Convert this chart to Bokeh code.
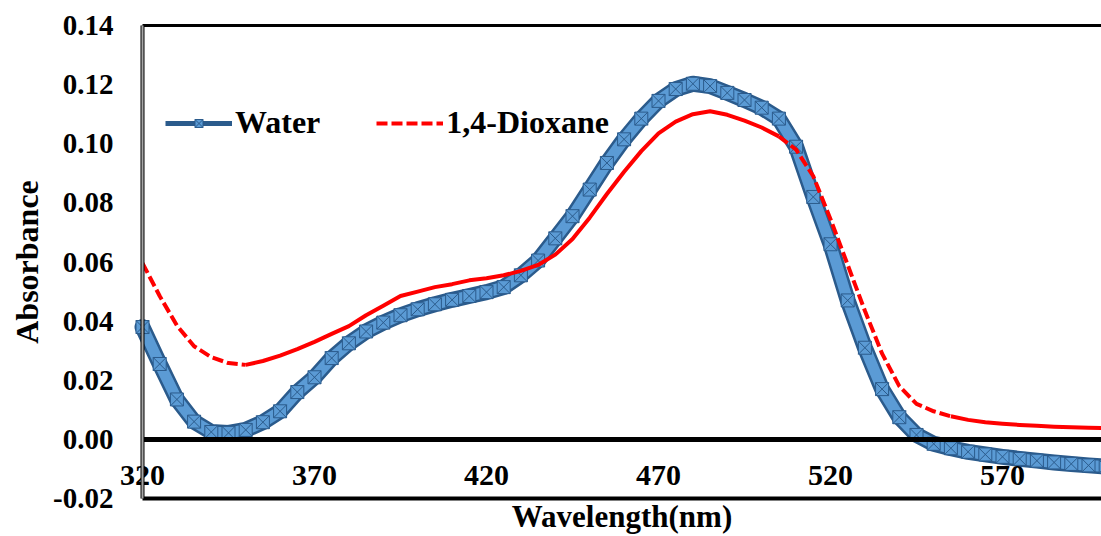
import numpy as np
from bokeh.plotting import figure
from bokeh.models import (Range1d, FixedTicker, NumeralTickFormatter, Legend,
                          LegendItem, LinearAxis)
from bokeh.embed import file_html
from bokeh.resources import INLINE

# ---------------- data ----------------
wavelength = [320, 325, 330, 335, 340, 345, 350, 355, 360, 365, 370, 375, 380, 385, 390,
              395, 400, 405, 410, 415, 420, 425, 430, 435, 440, 445, 450, 455, 460, 465,
              470, 475, 480, 485, 490, 495, 500, 505, 510, 515, 520, 525, 530, 535, 540,
              545, 550, 555, 560, 565, 570, 575, 580, 585, 590, 595, 600]

absorbance_water = [0.0380, 0.0255, 0.0135, 0.0060, 0.0025, 0.0022, 0.0032, 0.0058, 0.0095,
                    0.0160, 0.0210, 0.0275, 0.0325, 0.0365, 0.0395, 0.0420, 0.0440, 0.0457,
                    0.0472, 0.0485, 0.0498, 0.0515, 0.0555, 0.0605, 0.0680, 0.0755, 0.0845,
                    0.0935, 0.1015, 0.1085, 0.1145, 0.1185, 0.1203, 0.1195, 0.1172, 0.1148,
                    0.1122, 0.1085, 0.0990, 0.0820, 0.0660, 0.0470, 0.0310, 0.0170, 0.0075,
                    0.0015, -0.0015, -0.0030, -0.0042, -0.0051, -0.0059, -0.0066, -0.0072,
                    -0.0078, -0.0083, -0.0088, -0.0092]

absorbance_dioxane = [0.0596, 0.0485, 0.0385, 0.0315, 0.0278, 0.0258, 0.0252, 0.0265, 0.0283,
                      0.0305, 0.0330, 0.0357, 0.0383, 0.0420, 0.0452, 0.0485, 0.0500, 0.0515,
                      0.0525, 0.0538, 0.0545, 0.0555, 0.0570, 0.0590, 0.0625, 0.0678, 0.0750,
                      0.0830, 0.0905, 0.0975, 0.1035, 0.1075, 0.1100, 0.1110, 0.1098, 0.1078,
                      0.1055, 0.1025, 0.0980, 0.0890, 0.0745, 0.0590, 0.0435, 0.0290, 0.0180,
                      0.0120, 0.0095, 0.0078, 0.0066, 0.0058, 0.0053, 0.0049, 0.0046, 0.0043,
                      0.0041, 0.0039, 0.0038]

x_tick_values = [320, 370, 420, 470, 520, 570]
x_tick_labels = ["320", "370", "420", "470", "520", "570"]
y_tick_values = [-0.02, 0.0, 0.02, 0.04, 0.06, 0.08, 0.10, 0.12, 0.14]

series_names = ["Water", "1,4-Dioxane"]

# ---------------- layout ----------------
W, H = 1101, 536
PLOT_LEFT, PLOT_TOP, PLOT_BOTTOM = 142, 25, 498      # pixel edges of the axes box
X0, Y0, Y1 = 320, -0.02, 0.14
PX_PER_NM = 3.44
PX_PER_UNIT = (PLOT_BOTTOM - PLOT_TOP) / (Y1 - Y0)
X_END = X0 + (W - PLOT_LEFT) / PX_PER_NM

FONT = "Liberation Serif"
DARK = "#2B5B8C"
LIGHT = "#5B9BD5"
RED = "#FF0000"

# the frame covers the whole canvas so that labels outside the axes box are not clipped
p = figure(width=W, height=H,
           x_range=Range1d(X0 - PLOT_LEFT / PX_PER_NM, X_END),
           y_range=Range1d(Y0 - (H - PLOT_BOTTOM) / PX_PER_UNIT, Y1 + PLOT_TOP / PX_PER_UNIT),
           output_backend="svg", toolbar_location=None,
           x_axis_location=None, y_axis_location=None,
           min_border=0, min_border_left=0, min_border_right=0,
           min_border_top=0, min_border_bottom=0)
p.outline_line_color = None
p.xgrid.visible = False
p.ygrid.visible = False
p.background_fill_color = "white"
p.border_fill_color = "white"


def bare_axis(loc, bounds, color, width):
    return LinearAxis(fixed_location=loc, bounds=bounds, ticker=FixedTicker(ticks=[]),
                      major_tick_line_color=None, minor_tick_line_color=None,
                      major_tick_in=0, major_tick_out=0, major_label_text_font_size="0px",
                      axis_line_color=color, axis_line_width=width)


# y axis on the left edge of the box
yax = LinearAxis(fixed_location=X0, bounds=(Y0, Y1), ticker=FixedTicker(ticks=y_tick_values),
                 formatter=NumeralTickFormatter(format="0.00"),
                 major_label_text_font=FONT, major_label_text_font_style="bold",
                 major_label_text_font_size="29px", major_label_text_color="black",
                 major_label_standoff=29,
                 major_tick_line_color=None, minor_tick_line_color=None,
                 major_tick_in=0, major_tick_out=0,
                 axis_line_color="black", axis_line_width=4,
                 axis_label="Absorbance", axis_label_text_font=FONT,
                 axis_label_text_font_style="bold", axis_label_text_font_size="32px",
                 axis_label_text_color="black", axis_label_standoff=5)
p.add_layout(yax, "left")
# gray centre of the double left axis line
p.add_layout(bare_axis(X0, (Y0, Y1), "#A6A6A6", 2), "left")

# x axis sitting on the zero line, labels just below it, title below the box
xax = LinearAxis(fixed_location=0, bounds=(X0, X_END), ticker=FixedTicker(ticks=x_tick_values),
                 major_label_overrides={v: s for v, s in zip(x_tick_values, x_tick_labels)},
                 major_label_text_font=FONT, major_label_text_font_style="bold",
                 major_label_text_font_size="30px", major_label_text_color="black",
                 major_label_standoff=27,
                 major_tick_line_color=None, minor_tick_line_color=None,
                 major_tick_in=0, major_tick_out=0,
                 axis_line_color="black", axis_line_width=5,
                 axis_label="Wavelength(nm)", axis_label_text_font=FONT,
                 axis_label_text_font_style="bold", axis_label_text_font_size="31px",
                 axis_label_text_color="black", axis_label_standoff=10)
p.add_layout(xax, "below")

# bottom and top borders of the box
p.add_layout(bare_axis(Y0, (X0, X_END), "black", 4), "below")
p.add_layout(bare_axis(Y1, (X0, X_END), "black", 3), "above")

# ---------------- series ----------------
wl = np.array(wavelength, dtype=float)
aw = np.array(absorbance_water, dtype=float)
ad = np.array(absorbance_dioxane, dtype=float)

# Water: thick marker band (thin legend line hidden beneath it)
w_leg_line = p.line(wl, aw, line_color=DARK, line_width=5)
p.line(wl, aw, line_color=DARK, line_width=16, line_join="round", line_cap="round")
p.line(wl, aw, line_color=LIGHT, line_width=11, line_join="round", line_cap="round")
w_marks = p.scatter(wl, aw, marker="square_x", size=13, fill_color=LIGHT, line_color=DARK, line_width=1)

# 1,4-Dioxane: dashed where steep, visually solid elsewhere
dashed_mask = (wl <= 345) | ((wl >= 505) & (wl <= 550))
d_segments = []
start = 0
for i in range(1, len(wl)):
    if dashed_mask[i] != dashed_mask[i - 1] or i == len(wl) - 1:
        seg = slice(start, i + 1)
        r = p.line(wl[seg], ad[seg], line_color=RED, line_width=4,
                   line_dash="11 4" if dashed_mask[start] else "solid", line_join="round")
        d_segments.append(r)
        start = i

# ---------------- legend ----------------
legend = Legend(items=[LegendItem(label=series_names[0], renderers=[w_leg_line, w_marks]),
                       LegendItem(label=series_names[1], renderers=[d_segments[0]])],
                orientation="horizontal", location=(PLOT_LEFT + 23, H - 141), glyph_width=67,
                label_standoff=3, spacing=56, padding=0, margin=0,
                border_line_color=None, background_fill_alpha=0,
                label_text_font=FONT, label_text_font_style="bold",
                label_text_font_size="32px", label_text_color="black")
p.add_layout(legend)

open("out.html", "w").write(file_html(p, INLINE))
